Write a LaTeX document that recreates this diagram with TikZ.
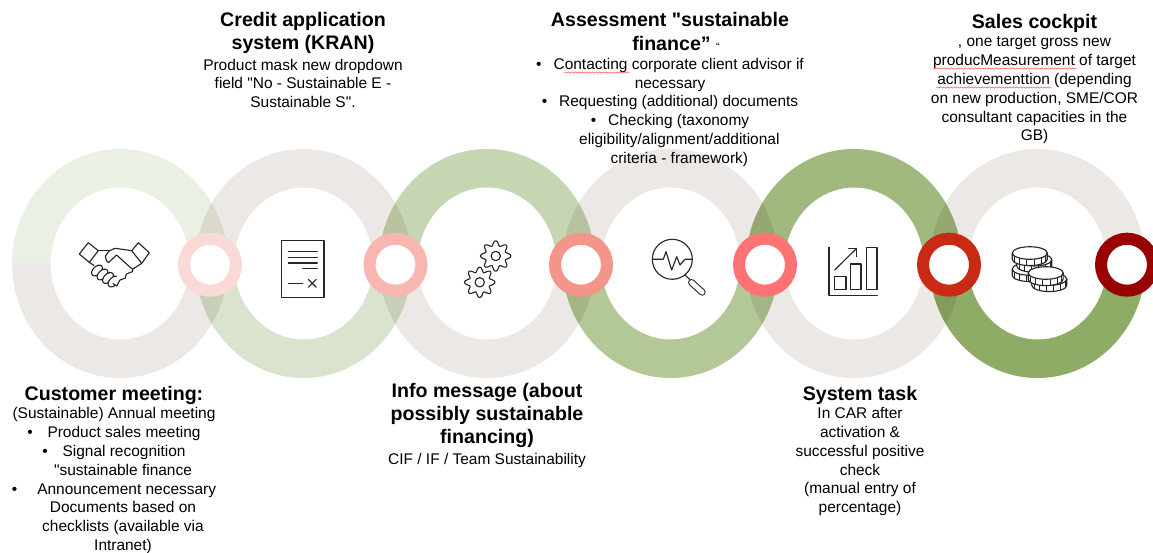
\documentclass[tikz,border=0pt]{standalone}
\usepackage{fontspec}
\setmainfont{Liberation Sans}[Ligatures=TeXOff]
\usepackage{xcolor}
\usetikzlibrary{positioning}
\usetikzlibrary{decorations.pathmorphing}
\definecolor{ringgrey}{HTML}{ECE8E5}
\definecolor{greenA}{HTML}{EBF0E5}
\definecolor{greenB}{HTML}{DAE3CD}
\definecolor{greenC}{HTML}{C7D6B2}
\definecolor{greenD}{HTML}{B4C797}
\definecolor{greenE}{HTML}{A1B97F}
\definecolor{greenF}{HTML}{8FAC66}
\definecolor{linkA}{HTML}{FBD9D6}
\definecolor{linkB}{HTML}{F9B6B0}
\definecolor{linkC}{HTML}{F4958A}
\definecolor{linkD}{HTML}{FF7375}
\definecolor{linkE}{HTML}{C92A14}
\definecolor{linkF}{HTML}{990000}
\tikzset{
	ringpart/.style={blend mode=multiply},
	linkring/.style={circle, draw=#1, fill=white, line width=9pt, minimum size=39pt, inner sep=0pt},
	icon/.style={draw=black!85, line width=0.85pt, line join=round, line cap=round},
	headtext/.style={align=center, inner sep=0pt, font=\fontsize{14.7}{17.4}\selectfont\bfseries},
	bodytext/.style={align=center, inner sep=0pt, font=\fontsize{11.6}{14.1}\selectfont},
	spellmark/.style={draw=red!75, line width=0.35pt, decorate, decoration={snake, amplitude=0.5pt, segment length=2.6pt}},
	coin/.pic={
		\draw[icon, fill=white] (-17.5,0) -- (-17.5,6.3) arc[start angle=180, end angle=360, x radius=13.1pt, y radius=4.7pt] -- (17.5,0);
		\foreach \a in {25,50,...,155}{
			\draw[icon, line width=0.6pt] ({17.5*cos(\a)},{6.3*sin(\a)}) -- ++(0,6.3);
		}
		\draw[icon, fill=white] (0,0) ellipse[x radius=13.1pt, y radius=4.7pt];
	},
	gear/.pic={
		\draw[icon] plot[domain=0:360, samples=97, smooth] (\x:{12.8+2.4*cos(8*\x)}) -- cycle;
		\draw[icon] (0,0) circle[radius=3.5pt];
	}
}
\newcommand{\halfring}[3]{
	\fill[ringpart, #2] (#1-108,263.5) arc[start angle=180, end angle=#3, x radius=81pt, y radius=85.9pt] -- (#1+69.5,263.5) arc[start angle=#3, end angle=180, x radius=52.1pt, y radius=57pt] -- cycle;
}
\newcommand{\bul}[1]{\textbullet\hspace{#1}}
\begin{document}
\begin{tikzpicture}[x=0.75pt, y=-0.75pt]
	\clip (0,0) rectangle (1153,553);

	\foreach \ringx/\upcol/\lowcol in {120/greenA/ringgrey, 303.5/ringgrey/greenB, 487/greenC/ringgrey, 670.5/ringgrey/greenD, 854/greenE/ringgrey, 1037.5/ringgrey/greenF}{
		\halfring{\ringx}{\upcol}{0}
		\halfring{\ringx}{\lowcol}{360}
	}

	\foreach \linkx/\linkcol/\linkname in {210/linkA/linka, 395.5/linkB/linkb, 581/linkC/linkc, 765/linkD/linkd, 949/linkE/linke, 1127/linkF/linkf}{
		\node[linkring=\linkcol] (\linkname) at (\linkx,264.7) {};
	}

	% handshake
	\draw[icon] (88.3,242.7) -- (98.3,250.7) -- (89.3,262.3) -- (79.3,254) -- cycle;
	\draw[icon] (138.3,242.7) -- (149.3,252.7) -- (141.7,263.3) -- (131.7,250.7) -- cycle;
	\draw[icon] (98.3,250.7) -- (109,250.7);
	\draw[icon] (89.3,262.3) -- (94,265.5);
	\draw[icon] (141.7,263.3) -- (132.5,269.3);
	\foreach \fx/\fy in {97/270.5, 102.5/274.5, 108/278, 113.5/281.5}{
		\draw[icon, fill=white] (\fx,\fy) ellipse[x radius=3pt, y radius=4.9pt, rotate=-45];
	}
	\draw[icon, fill=white] (131.7,250.7) -- (115,248.3) -- (109,251) -- (105.5,256) to[out=100, in=180] (108.5,262.5) -- (116.5,255) -- (132.5,269.3) to[out=20, in=-60] (131.5,272) -- (126.5,274) -- (125,278.3) -- (120,280) -- (116.7,286) -- (113,283.5);

	% contract
	\draw[icon] (281.7,240.7) rectangle (324,297.3);
	\foreach \liney in {251.7,257.3,263}{
		\draw[icon] (288.3,\liney) -- (317.3,\liney);
	}
	\draw[icon] (302.7,268.7) -- (317.3,268.7);
	\draw[icon] (288.3,283.3) -- (302.7,283.3);
	\draw[icon] (308.3,279.3) -- (316.3,287.3);
	\draw[icon] (316.3,279.3) -- (308.3,287.3);

	% gears
	\pic at (495.7,256) {gear};
	\pic at (479.7,282.3) {gear};

	% magnifier
	\draw[icon] (672.3,259.3) circle[radius=15pt];
	\draw[icon] (652.3,259.3) -- (663.3,259.3) -- (666,251.7) -- (671.7,270) -- (676.7,256.7) -- (680,265) -- (685,259.3) -- (692.3,259.3);
	\draw[icon] (685,275) -- (690,279.7);
	\draw[icon, double=white, double distance=3.6pt, line width=0.8pt] (691.5,282.5) -- (702.2,292.2);

	% chart
	\draw[icon] (829,247.3) -- (829,295.3) -- (877.3,295.3);
	\draw[icon] (834.7,276.7) rectangle (846,289.7);
	\draw[icon] (850.7,264) rectangle (861,289.7);
	\draw[icon] (866.7,247.7) rectangle (877,289.7);
	\draw[icon] (834.7,270) -- (856.7,248.3);
	\draw[icon] (848.7,248.3) -- (856.7,248.3) -- (856.7,256.7);

	% coins
	\pic at (1029.7,269) {coin};
	\pic at (1034.3,259.7) {coin};
	\pic at (1029.8,253) {coin};
	\pic at (1049.3,279) {coin};
	\pic at (1045.7,273) {coin};

	\node[headtext] (meetinghead) at (114,395) {Customer meeting:};
	\node[bodytext, below=2.2pt of meetinghead] (meetingbody) {(Sustainable) Annual meeting\\
		\bul{11pt}Product sales meeting\\
		\bul{11pt}Signal recognition\\
		\hspace*{13.5pt}"sustainable finance\\
		\bul{15pt}Announcement necessary\\
		\hspace*{13.5pt}Documents based on\\
		\hspace*{13.5pt}checklists (available via\\
		\hspace*{13.5pt}Intranet)};

	\node[headtext] (credithead) at (303,33) {Credit application\\system (KRAN)};
	\node[bodytext, below=3.4pt of credithead] (creditbody) {Product mask new dropdown\\
		field "No - Sustainable E -\\
		Sustainable S".};

	\node[headtext] (infohead) at (487,415.5) {Info message (about\\possibly sustainable\\financing)};
	\node[bodytext, below=3.6pt of infohead] (infobody) {CIF / IF / Team Sustainability};

	\node[headtext] (assesshead) at (670,31.5) {Assessment "sustainable\\\hspace*{9pt}finance” {\mdseries\fontsize{8}{8}\selectfont “}};
	\node[bodytext, below=5.4pt of assesshead] (assessbody) {\bul{9pt}Contacting corporate client advisor if\\
		necessary\\
		\bul{9pt}Requesting (additional) documents\\
		\bul{9pt}Checking (taxonomy\\
		\hspace*{14pt}eligibility/alignment/additional\\
		\hspace*{14pt}criteria - framework)};

	\node[headtext] (taskhead) at (860,395) {System task};
	\node[bodytext, below=2.2pt of taskhead] (taskbody) {In CAR after\\
		activation \&\\
		successful positive\\
		check\\
		(manual entry of\\
		percentage)};

	\node[headtext] (cockpithead) at (1034.5,23) {Sales cockpit};
	\node[bodytext, below=3.2pt of cockpithead] (cockpitbody) {, one target gross new\\
		producMeasurement of target\\
		achievementtion (depending\\
		on new production, SME/COR\\
		consultant capacities in the\\
		GB)};

	\draw[spellmark] (564,72.5) -- (630,72.5);
	\draw[spellmark] (933,68.5) -- (1077,68.5);
	\draw[spellmark] (936,87.5) -- (1052,87.5);
\end{tikzpicture}
\end{document}
